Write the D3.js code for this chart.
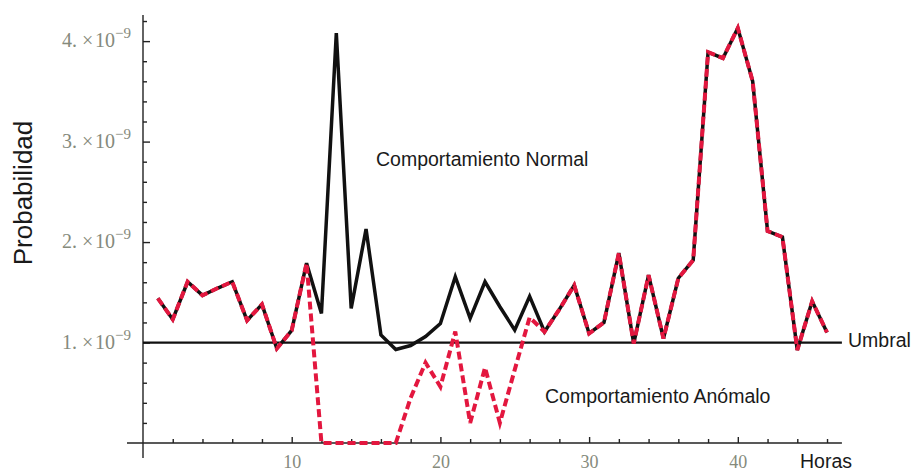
<!DOCTYPE html>
<html>
<head>
<meta charset="utf-8">
<script src="https://cdn.jsdelivr.net/npm/d3@7"></script>
<style>
  body { margin: 0; background: #fff; }
  svg { display: block; }
</style>
</head>
<body>
<div class="canvas"></div>
<script>
// hours on the x axis
const hours = [1, 2, 3, 4, 5, 6, 7, 8, 9, 10,
    11, 12, 13, 14, 15, 16, 17, 18, 19, 20,
    21, 22, 23, 24, 25, 26, 27, 28, 29, 30,
    31, 32, 33, 34, 35, 36, 37, 38, 39, 40,
    41, 42, 43, 44, 45, 46];

// probability, in units of 1e-9
const normal = [1.44, 1.23, 1.605, 1.47, 1.54, 1.605, 1.22, 1.38, 0.94, 1.12,
    1.79, 1.29, 4.08, 1.34, 2.13, 1.075, 0.93, 0.97, 1.06, 1.19,
    1.655, 1.24, 1.605, 1.356, 1.124, 1.46, 1.107, 1.33, 1.57, 1.09,
    1.2, 1.89, 0.99, 1.67, 1.04, 1.64, 1.82, 3.89, 3.83, 4.13,
    3.6, 2.11, 2.05, 0.925, 1.41, 1.1];

const anomalous = [1.44, 1.23, 1.605, 1.47, 1.54, 1.605, 1.22, 1.38, 0.94, 1.12,
    1.79, 0, 0, 0, 0, 0, 0, 0.45, 0.8, 0.56,
    1.11, 0.2, 0.75, 0.2, 0.73, 1.25, 1.107, 1.33, 1.57, 1.09,
    1.2, 1.89, 0.99, 1.67, 1.04, 1.64, 1.82, 3.89, 3.83, 4.13,
    3.6, 2.11, 2.05, 0.925, 1.41, 1.1];

const threshold = 1;

const xMajor = [10, 20, 30, 40];
const xMinor = [2, 4, 6, 8, 12, 14, 16, 18, 22, 24, 26, 28, 32, 34, 36, 38, 42, 44, 46];
const yMajor = [1, 2, 3, 4];
const yMinor = [0.2, 0.4, 0.6, 0.8, 1.2, 1.4, 1.6, 1.8, 2.2, 2.4, 2.6, 2.8,
    3.2, 3.4, 3.6, 3.8, 4.2];

const svg = d3.select('.canvas')
    .append('svg')
        .attr('width', 913)
        .attr('height', 473);

const x = d3.scaleLinear().domain([0, 47]).range([143, 841.9]);
const y = d3.scaleLinear().domain([0, 4.26]).range([443, 15]);

const sans = '"Liberation Sans", Arial, sans-serif';
const serif = '"Liberation Serif", "Times New Roman", serif';
const tickGrey = '#858a7c';

// axes lines (extend a little past the origin like the original)
svg.append('line')
    .attr('x1', x(0) - 16).attr('x2', x(47))
    .attr('y1', y(0)).attr('y2', y(0))
    .attr('stroke', '#222').attr('stroke-width', 1.4);

svg.append('line')
    .attr('x1', x(0)).attr('x2', x(0))
    .attr('y1', y(4.26)).attr('y2', y(0) + 15)
    .attr('stroke', '#222').attr('stroke-width', 1.4);

// x ticks
const xMinorAxis = svg.append('g')
    .attr('transform', `translate(0, ${y(0)})`)
    .call(d3.axisBottom(x).tickValues(xMinor).tickSize(-4).tickSizeOuter(0).tickFormat(''));

const xMajorAxis = svg.append('g')
    .attr('transform', `translate(0, ${y(0)})`)
    .call(d3.axisBottom(x).tickValues(xMajor).tickSize(-6).tickSizeOuter(0).tickPadding(12));

[xMinorAxis, xMajorAxis].forEach(g => {
    g.select('.domain').remove();
    g.selectAll('line').attr('stroke', '#222').attr('stroke-width', 1.4);
});
xMajorAxis.selectAll('text')
    .attr('fill', tickGrey)
    .attr('font-family', serif)
    .attr('font-size', 18);

// y ticks
const yMinorAxis = svg.append('g')
    .attr('transform', `translate(${x(0)}, 0)`)
    .call(d3.axisLeft(y).tickValues(yMinor).tickSize(-4).tickSizeOuter(0).tickFormat(''));

const yMajorAxis = svg.append('g')
    .attr('transform', `translate(${x(0)}, 0)`)
    .call(d3.axisLeft(y).tickValues(yMajor).tickSize(-7).tickSizeOuter(0).tickFormat(''));

[yMinorAxis, yMajorAxis].forEach(g => {
    g.select('.domain').remove();
    g.selectAll('line').attr('stroke', '#222').attr('stroke-width', 1.4);
});

// y tick labels like "4.×10^-9"
const yLabels = svg.selectAll('text.y-label')
    .data(yMajor)
    .enter()
    .append('text')
    .attr('class', 'y-label')
    .attr('x', x(0) - 12)
    .attr('y', d => y(d) + 6)
    .attr('text-anchor', 'end')
    .attr('fill', tickGrey)
    .attr('font-family', serif)
    .attr('font-size', 20);

yLabels.append('tspan').text(d => `${d}.\u00a0\u00d7\u200a10`);
yLabels.append('tspan')
    .attr('dy', -9)
    .attr('font-size', 15)
    .text('\u22129');

// threshold line
svg.append('line')
    .attr('x1', x(0)).attr('x2', x(47))
    .attr('y1', y(threshold)).attr('y2', y(threshold))
    .attr('stroke', '#111').attr('stroke-width', 2.3);

const line = d3.line()
    .x((d, i) => x(hours[i]))
    .y(d => y(d));

svg.append('path')
    .datum(normal)
    .attr('fill', 'none')
    .attr('stroke', '#111')
    .attr('stroke-width', 3.5)
    .attr('stroke-linejoin', 'miter')
    .attr('d', line);

svg.append('path')
    .datum(anomalous)
    .attr('fill', 'none')
    .attr('stroke', '#e3173f')
    .attr('stroke-width', 4)
    .attr('stroke-dasharray', '8,4')
    .attr('d', line);

// annotations
const labels = [
    {text: 'Comportamiento Normal', x: 376, y: 166},
    {text: 'Comportamiento Anómalo', x: 545, y: 403},
    {text: 'Umbral', x: 848, y: 347},
    {text: 'Horas', x: 800, y: 468}
];

svg.selectAll('text.note')
    .data(labels)
    .enter()
    .append('text')
    .attr('class', 'note')
    .attr('x', d => d.x)
    .attr('y', d => d.y)
    .attr('fill', '#1a1a1a')
    .attr('font-family', sans)
    .attr('font-size', 19.5)
    .text(d => d.text);

svg.append('text')
    .attr('transform', 'translate(32, 193) rotate(-90)')
    .attr('text-anchor', 'middle')
    .attr('fill', '#1a1a1a')
    .attr('font-family', sans)
    .attr('font-size', 26)
    .text('Probabilidad');
</script>
</body>
</html>
